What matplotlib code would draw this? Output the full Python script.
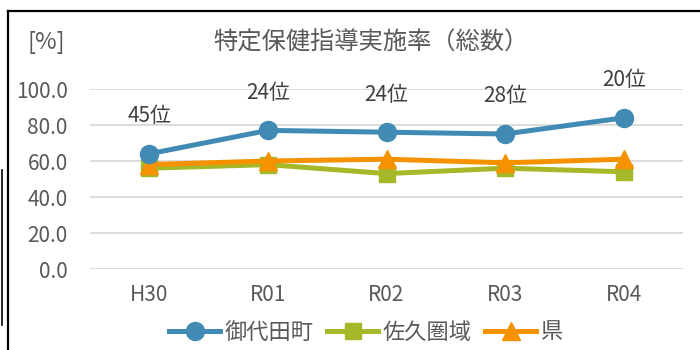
import matplotlib.pyplot as plt
from matplotlib.lines import Line2D

plt.rcParams['font.family'] = ['Noto Sans CJK JP', 'DejaVu Sans']

years = ['H30', 'R01', 'R02', 'R03', 'R04']
miyota = [64.0, 77.0, 76.0, 75.0, 84.0]
saku = [56.0, 58.0, 53.0, 56.0, 54.0]
pref = [58.0, 60.0, 61.0, 59.0, 61.0]
ranks = ['45位', '24位', '24位', '28位', '20位']

blue = '#418AB3'
green = '#A6B727'
orange = '#F69200'
gray = '#595959'

fig = plt.figure(figsize=(7, 3.5), dpi=100)
ax = fig.add_axes([90 / 700, 81 / 350, 593 / 700, 180 / 350])

x = range(len(years))
ax.plot(x, saku, color=green, lw=3.6, marker='s', ms=11, label='佐久圏域',
        clip_on=False, zorder=3)
ax.plot(x, pref, color=orange, lw=3.6, marker='^', ms=13, label='県',
        clip_on=False, zorder=4)
ax.plot(x, miyota, color=blue, lw=3.6, marker='o', ms=13, label='御代田町',
        clip_on=False, zorder=5)

# rank labels above the town's line
for i, (v, r) in enumerate(zip(miyota, ranks)):
    ax.annotate(r, (i, v), xytext=(0, 27), textcoords='offset points',
                ha='center', va='center', fontsize=15, color='#404040')

ax.set_xlim(-0.5, len(years) - 0.5)
ax.set_ylim(0, 100)
ax.set_yticks([0, 20, 40, 60, 80, 100])
ax.set_yticklabels([f'{v:.1f}' for v in [0, 20, 40, 60, 80, 100]])
ax.set_xticks(list(x))
ax.set_xticklabels(years)
ax.tick_params(length=0, labelsize=15, labelcolor=gray)
ax.tick_params(axis='y', pad=16)
ax.tick_params(axis='x', pad=11)
ax.grid(axis='y', color='#D9D9D9', lw=1.3)
ax.set_axisbelow(True)
for s in ax.spines.values():
    s.set_visible(False)

fig.text(371 / 700, 1 - 43 / 350, '特定保健指導実施率（総数）', ha='center',
         va='center', fontsize=17.5, color=gray)
fig.text(46 / 700, 1 - 43 / 350, '[%]', ha='center', va='center',
         fontsize=17, color=gray)

handles = [
    Line2D([], [], color=blue, lw=3.6, marker='o', ms=13),
    Line2D([], [], color=green, lw=3.6, marker='s', ms=11),
    Line2D([], [], color=orange, lw=3.6, marker='^', ms=13),
]
fig.legend(handles, ['御代田町', '佐久圏域', '県'], loc='center',
           bbox_to_anchor=(366 / 700, 1 - 332 / 350), ncol=3, frameon=False,
           fontsize=16, labelcolor=gray, handlelength=2.3, handletextpad=0.2,
           columnspacing=0.6)

# chart frame edges
fig.add_artist(Line2D([8 / 700, 1], [1 - 11 / 350] * 2, color='black', lw=1.6))
fig.add_artist(Line2D([8 / 700] * 2, [0, 1 - 11 / 350], color='black', lw=1.6))
fig.add_artist(Line2D([2 / 700] * 2, [1 - 325 / 350, 1 - 170 / 350],
                      color='black', lw=1.2))

fig.savefig('out.png', dpi=100)
